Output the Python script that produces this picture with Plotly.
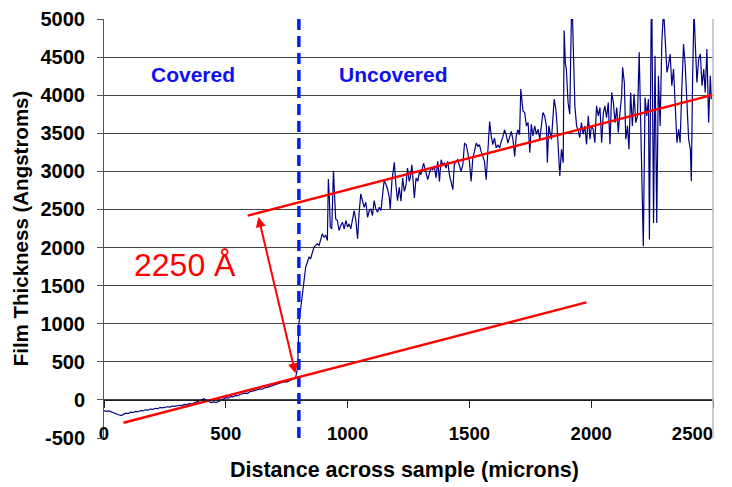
import plotly.graph_objects as go

# ---------------- data ----------------
dist_um = [
    0, 10, 20, 30, 40, 50, 60, 70, 80, 90, 100, 110, 120, 130, 140, 150, 160, 170, 180, 190,
    200, 210, 220, 230, 240, 250, 260, 270, 280, 290, 300, 310, 320, 330, 340, 350, 360, 370, 380, 390,
    400, 410, 420, 430, 440, 450, 460, 470, 480, 490, 500, 510, 520, 530, 540, 550, 560, 570, 580, 590,
    600, 610, 620, 630, 640, 650, 660, 670, 680, 690, 700, 710, 720, 730, 740, 750, 760, 770, 780, 787,
    793, 796, 800, 807, 814, 821, 828, 835, 842, 848, 855, 862, 869, 876, 883, 890, 896, 903, 910, 917,
    921, 925, 929, 935, 942, 947, 951, 958, 965, 972, 979, 986, 993, 1000, 1006, 1013, 1020, 1027, 1034, 1041,
    1047, 1054, 1061, 1068, 1075, 1082, 1089, 1095, 1102, 1109, 1116, 1123, 1130, 1137, 1144, 1150, 1157, 1164, 1171, 1175,
    1182, 1188, 1192, 1198, 1205, 1212, 1219, 1226, 1233, 1240, 1246, 1253, 1257, 1264, 1274, 1281, 1288, 1295, 1301, 1312,
    1322, 1329, 1336, 1343, 1349, 1356, 1363, 1370, 1377, 1384, 1390, 1397, 1404, 1411, 1418, 1425, 1432, 1438, 1445, 1452,
    1459, 1466, 1473, 1480, 1487, 1493, 1500, 1507, 1514, 1521, 1528, 1535, 1541, 1548, 1555, 1562, 1569, 1576, 1583, 1590,
    1596, 1603, 1610, 1617, 1624, 1631, 1638, 1644, 1651, 1658, 1665, 1672, 1679, 1686, 1692, 1699, 1706, 1711, 1720, 1727,
    1734, 1741, 1748, 1754, 1761, 1768, 1775, 1782, 1789, 1796, 1802, 1809, 1816, 1820, 1826, 1831, 1837, 1848, 1855, 1860,
    1864, 1871, 1878, 1885, 1889, 1894, 1898, 1905, 1912, 1919, 1923, 1929, 1933, 1940, 1947, 1953, 1960, 1967, 1974, 1981,
    1988, 1995, 2001, 2008, 2015, 2022, 2029, 2036, 2043, 2050, 2056, 2063, 2070, 2077, 2084, 2091, 2098, 2105, 2111, 2118,
    2125, 2129, 2136, 2142, 2149, 2155, 2162, 2169, 2176, 2183, 2190, 2197, 2203, 2209, 2214, 2221, 2228, 2235, 2239, 2246,
    2249, 2256, 2262, 2269, 2276, 2283, 2290, 2297, 2304, 2311, 2317, 2324, 2331, 2338, 2345, 2352, 2359, 2365, 2372, 2379,
    2386, 2393, 2400, 2407, 2411, 2416, 2422, 2427, 2434, 2441, 2448, 2455, 2462, 2468, 2475, 2482, 2489, 2493,
]
thick_A = [
    -140, -150, -145, -160, -165, -180, -195, -205, -190, -175, -180, -160, -165, -150, -155, -140, -145, -130, -135, -120,
    -125, -110, -115, -100, -105, -95, -90, -95, -80, -85, -75, -70, -75, -60, -65, -50, -55, -40, -30, -10,
    10, 15, -5, -25, -35, -25, -35, -20, -10, 10, 30, 25, 45, 40, 60, 55, 75, 80, 90, 85,
    110, 115, 125, 130, 145, 140, 160, 165, 175, 180, 200, 205, 215, 220, 240, 235, 255, 265, 280, 300,
    390, 524, 1003, 1177, 1396, 1526, 1744, 1810, 1875, 1853, 1919, 2006, 2028, 2050, 2028, 2115, 2180, 2137, 2159, 2093,
    2900, 2660, 2268, 2246, 3009, 2660, 2377, 2355, 2224, 2289, 2333, 2246, 2355, 2268, 2311, 2246, 2377, 2486, 2355, 2115,
    2442, 2704, 2616, 2529, 2595, 2398, 2486, 2507, 2420, 2616, 2507, 2464, 2529, 2486, 2704, 2878, 2834, 2769, 2660, 2507,
    2878, 3009, 3118, 2834, 2616, 2791, 2607, 2913, 2738, 2825, 3044, 2869, 2913, 3087, 2650, 2913, 2869, 3000, 2956, 3109,
    3000, 2891, 2978, 3044, 3022, 3066, 2913, 3131, 2869, 3153, 3087, 3109, 3044, 3131, 2956, 2869, 2760, 3087, 3131, 3153,
    3066, 3000, 3087, 3371, 3350, 3218, 3131, 2869, 3175, 3262, 3371, 3328, 3350, 3262, 3197, 3131, 2891, 3328, 3655, 3459,
    3350, 3437, 3306, 3350, 3306, 3393, 3459, 3546, 3481, 3371, 3459, 3524, 3415, 3197, 3459, 3546, 3481, 4080, 3794, 3772,
    3597, 3640, 3245, 3618, 3465, 3597, 3487, 3553, 3421, 3597, 3772, 3728, 3597, 3114, 3597, 3509, 3421, 3948, 3816, 3597,
    3377, 2938, 3289, 3114, 4848, 4409, 4343, 3904, 3750, 5100, 5050, 4475, 3860, 3597, 3531, 3443, 3640, 3487, 3597, 3355,
    3728, 3421, 3597, 3553, 3377, 3860, 3728, 3838, 3377, 3772, 3860, 3706, 3904, 3355, 4036, 3904, 3640, 3838, 3509, 3772,
    3992, 4365, 4167, 3421, 3597, 3289, 4036, 3597, 4014, 3640, 3728, 4562, 3640, 2719, 2016, 3970, 3728, 3948, 2104, 4957,
    5130, 2323, 4518, 2323, 4255, 3597, 4694, 5130, 4606, 4299, 4387, 4540, 4123, 4343, 3860, 3377, 3553, 3377, 4079, 4672,
    4387, 3992, 3421, 3289, 2872, 4167, 5130, 4694, 4167, 4475, 4540, 4123, 4343, 4036, 4606, 3640, 4255, 3948,
]

# hand-drawn red trend lines (end points)
fit_low_x = [80, 1980]
fit_low_y = [-300, 1280]
fit_high_x = [590, 2495]
fit_high_y = [2420, 4000]
boundary_x = [800, 800]
boundary_y = [-500, 5000]
arrow_top = (634, 2400)
arrow_bottom = (787, 330)

x_ticks = [0, 500, 1000, 1500, 2000, 2500]
x_tick_text = ["<b>0</b>", "<b>500</b>", "<b>1000</b>", "<b>1500</b>", "<b>2000</b>",
               "<b>2500</b>" + "&nbsp;" * 8]
y_ticks = [-500, 0, 500, 1000, 1500, 2000, 2500, 3000, 3500, 4000, 4500, 5000]

FONT = "Liberation Sans, Arial, sans-serif"

fig = go.Figure()

fig.add_trace(go.Scatter(x=dist_um, y=thick_A, mode="lines",
                         line=dict(color="#000080", width=1.2), showlegend=False))
fig.add_trace(go.Scatter(x=boundary_x, y=boundary_y, mode="lines",
                         line=dict(color="#0022EE", width=3.5, dash="11px,6px"), showlegend=False))
fig.add_trace(go.Scatter(x=fit_low_x, y=fit_low_y, mode="lines",
                         line=dict(color="#FF0000", width=2.4), showlegend=False))
fig.add_trace(go.Scatter(x=fit_high_x, y=fit_high_y, mode="lines",
                         line=dict(color="#FF0000", width=2.4), showlegend=False))
# dummy trace to carry the zero-crossing axis
fig.add_trace(go.Scatter(x=[], y=[], xaxis="x2", showlegend=False, hoverinfo="skip"))

fig.add_annotation(x=arrow_top[0], y=arrow_top[1], ax=arrow_bottom[0], ay=arrow_bottom[1],
                   xref="x", yref="y", axref="x", ayref="y", text="", showarrow=True,
                   arrowhead=2, arrowside="end+start", arrowsize=1, arrowwidth=2,
                   arrowcolor="#FF0000", standoff=0, startstandoff=0)
fig.add_annotation(x=334, y=1771, xref="x", yref="y", text="2250 Å", showarrow=False,
                   font=dict(family=FONT, size=32, color="#FF0000"))
fig.add_annotation(x=367, y=4277, xref="x", yref="y", text="<b>Covered</b>", showarrow=False,
                   font=dict(family=FONT, size=21, color="#1010EE"))
fig.add_annotation(x=1190, y=4277, xref="x", yref="y", text="<b>Uncovered</b>", showarrow=False,
                   font=dict(family=FONT, size=21, color="#1010EE"))
fig.add_annotation(x=0.494, y=-0.076, xref="paper", yref="paper", yanchor="middle",
                   text="<b>Distance across sample (microns)</b>", showarrow=False,
                   font=dict(family=FONT, size=21.5, color="#000000"))

# right border of plot area
fig.add_shape(type="line", xref="paper", yref="paper", x0=1, x1=1, y0=0, y1=1,
              line=dict(color="#BBBBBB", width=1.5))

fig.update_layout(
    width=732, height=487,
    margin=dict(l=104, r=19, t=19, b=49, autoexpand=False),
    paper_bgcolor="white", plot_bgcolor="white",
    font=dict(family=FONT, color="black"),
    showlegend=False,
    xaxis=dict(range=[0, 2500], tickvals=x_ticks, ticktext=x_tick_text,
               showgrid=False, zeroline=False, showline=False, ticks="",
               tickfont=dict(family=FONT, size=18.5, color="black"),
               ticklabelstandoff=-18, ticklabeloverflow="allow", automargin=False),
    xaxis2=dict(range=[0, 2500], overlaying="x", anchor="free", position=500 / 5500,
                tickvals=x_ticks, showticklabels=False, showgrid=False, zeroline=False,
                showline=True, linecolor="#222222", linewidth=1, automargin=False,
                ticks="outside", ticklen=7, tickcolor="#222222", tickwidth=1),
    yaxis=dict(range=[-500, 5000], tickvals=y_ticks, ticktext=[f"<b>{v}</b>" for v in y_ticks],
               showgrid=True, gridcolor="#444444", gridwidth=1, zeroline=False,
               showline=True, linecolor="#555555", linewidth=1, automargin=False,
               ticks="outside", ticklen=6, tickcolor="#555555",
               tickfont=dict(family=FONT, size=20, color="black"),
               ticklabelstandoff=8,
               title=dict(text="<b>Film Thickness (Angstroms)</b>",
                          font=dict(family=FONT, size=20.5, color="black"), standoff=6)),
)

fig.write_html("out.html")
